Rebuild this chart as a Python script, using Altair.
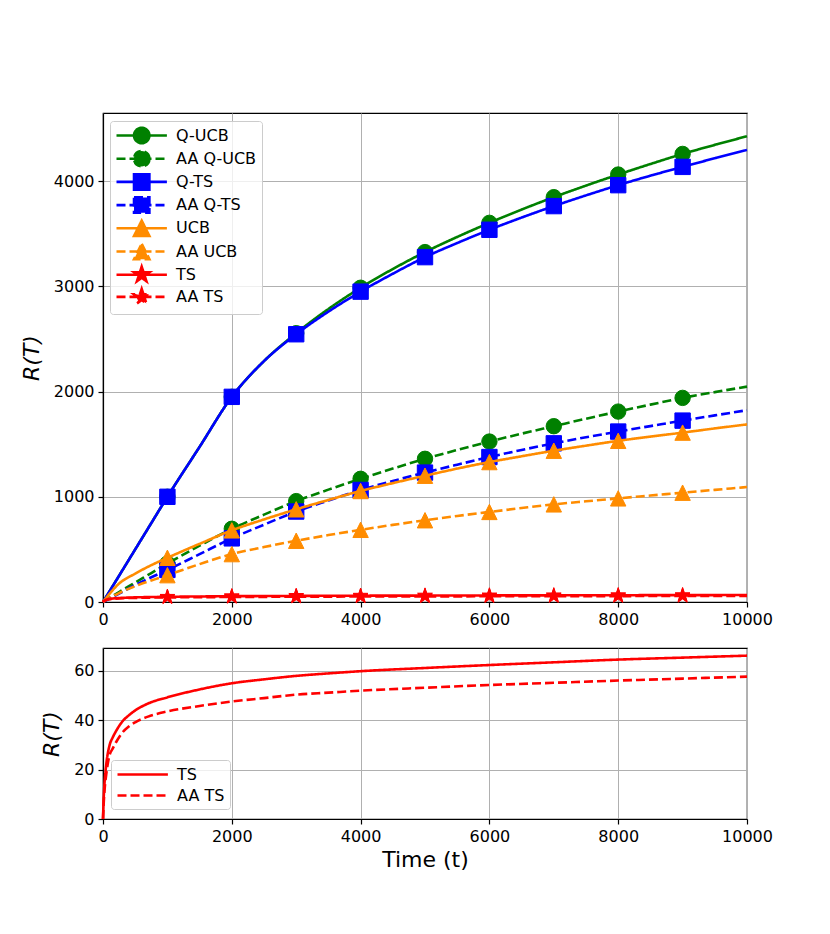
import math
import altair as alt
import pandas as pd

# ---------------- data ----------------
T = [0, 250, 500, 750, 1000, 1500, 2000, 2500, 3000, 3500, 4000, 4500, 5000,
     5500, 6000, 6500, 7000, 7500, 8000, 8500, 9000, 9500, 10000]

q_ucb = [0, 250, 500, 750, 1000, 1475, 1950, 2290, 2555, 2785, 2987, 3165, 3326,
         3470, 3604, 3730, 3848, 3958, 4063, 4163, 4259, 4345, 4427]
aa_q_ucb = [0, 95, 185, 275, 365, 535, 696, 830, 959, 1068, 1171, 1268, 1361,
            1445, 1525, 1600, 1671, 1742, 1810, 1876, 1940, 1995, 2047]
q_ts = [0, 250, 500, 750, 1000, 1475, 1950, 2290, 2545, 2760, 2950, 3120, 3278,
        3412, 3538, 3654, 3763, 3865, 3962, 4052, 4136, 4218, 4297]
aa_q_ts = [0, 80, 160, 235, 305, 455, 605, 735, 860, 965, 1065, 1150, 1230,
           1305, 1378, 1445, 1508, 1566, 1620, 1672, 1724, 1774, 1823]
ucb = [0, 175, 270, 350, 420, 553, 681, 785, 881, 970, 1055, 1130, 1200,
       1268, 1330, 1385, 1438, 1486, 1532, 1572, 1610, 1650, 1688]
aa_ucb = [0, 85, 150, 205, 255, 360, 455, 522, 582, 636, 686, 733, 777,
          818, 856, 893, 928, 957, 985, 1012, 1039, 1066, 1093]

T_ts = [0, 10, 25, 50, 100, 150, 200, 300, 400, 500, 700, 1000, 1500, 2000,
        2500, 3000, 3500, 4000, 5000, 6000, 7000, 8000, 9000, 10000]
ts = [0, 8, 15, 22, 29.7, 33, 35.5, 39.5, 42, 44, 46.8, 49.3, 52.5, 55,
      56.6, 58, 59, 59.9, 61.2, 62.4, 63.5, 64.6, 65.4, 66.2]
aa_ts = [0, 6, 12, 18, 25.7, 28.5, 31, 35, 37.5, 39.2, 41.5, 43.6, 45.8, 47.6,
         49, 50.4, 51.2, 52, 53.2, 54.3, 55.2, 56.1, 56.9, 57.7]

names = ["Q-UCB", "AA Q-UCB", "Q-TS", "AA Q-TS", "UCB", "AA UCB", "TS", "AA TS"]
colors = ["#008000", "#008000", "#0000ff", "#0000ff",
          "#ff8c00", "#ff8c00", "#ff0000", "#ff0000"]
marker_ticks = [1000, 2000, 3000, 4000, 5000, 6000, 7000, 8000, 9000]
x_ticks = [0, 2000, 4000, 6000, 8000, 10000]
y_ticks_top = [0, 1000, 2000, 3000, 4000]
y_ticks_bottom = [0, 20, 40, 60]

# ---------------- build tables ----------------
curves = {
    "Q-UCB": (T, q_ucb), "AA Q-UCB": (T, aa_q_ucb),
    "Q-TS": (T, q_ts), "AA Q-TS": (T, aa_q_ts),
    "UCB": (T, ucb), "AA UCB": (T, aa_ucb),
    "TS": (T_ts, ts), "AA TS": (T_ts, aa_ts),
}
rows = []
for n in names:
    tt, vv = curves[n]
    for t, v in zip(tt, vv):
        rows.append({"series": n, "t": t, "r": v})
df = pd.DataFrame(rows)
df_marks = df[df["t"].isin(marker_ticks)].reset_index(drop=True)

# ---------------- styling helpers ----------------
SOLID = [1, 0]
DASH = [9, 4]
dashes = [SOLID, DASH] * 4
LW = 2.6
MSIZE = 237


def star_path(cx, cy, R):
    pts = []
    for k in range(10):
        ang = -math.pi / 2 + k * math.pi / 5
        rad = R if k % 2 == 0 else R * 0.382
        pts.append((cx + rad * math.cos(ang), cy + rad * math.sin(ang)))
    return "M" + "L".join(f"{x:.3f},{y:.3f}" for x, y in pts) + "Z"


def circle_path(cx, cy, r):
    return (f"M{cx + r:.3f},{cy:.3f}A{r:.3f},{r:.3f},0,1,1,{cx - r:.3f},{cy:.3f}"
            f"A{r:.3f},{r:.3f},0,1,1,{cx + r:.3f},{cy:.3f}Z")


def square_path(cx, cy, h):
    return f"M{cx - h:.3f},{cy - h:.3f}H{cx + h:.3f}V{cy + h:.3f}H{cx - h:.3f}Z"


def tri_path(cx, cy, h):
    return f"M{cx:.3f},{cy - h:.3f}L{cx + h:.3f},{cy + h:.3f}L{cx - h:.3f},{cy + h:.3f}Z"


chart_shapes = {
    "circle": "circle",
    "square": "square",
    "triangle": "M0,-1L1,1L-1,1Z",
    "star": star_path(0, 0, 1.0),
}
marker_kind = ["circle", "circle", "square", "square",
               "triangle", "triangle", "star", "star"]

# legend symbols: line segment + marker, in units of sqrt(size)/2 = 8 px
LINE = "M-1,0H5.3"
cx, u = 2.15, 0.96
legend_marker = {
    "circle": circle_path(cx, 0, u),
    "square": square_path(cx, 0, u),
    "triangle": tri_path(cx, 0, u),
    "star": star_path(cx, 0, u * 1.05),
}
legend_paths = [LINE + legend_marker[k] for k in marker_kind]

FONT = "DejaVu Sans"
W = 644

x_top = alt.X("t:Q", scale=alt.Scale(domain=[0, 10000], nice=False),
              axis=alt.Axis(values=x_ticks, format="d", title=None))
y_top = alt.Y("r:Q", scale=alt.Scale(domain=[0, 4648], nice=False),
              axis=alt.Axis(values=y_ticks_top, format="d", title="R(T)",
                            titleFontStyle="italic"))

layers = []
for n, c, d, k in zip(names, colors, dashes, marker_kind):
    layers.append(
        alt.Chart(df).transform_filter(alt.datum.series == n)
        .mark_line(color=c, strokeDash=d, strokeWidth=LW, interpolate="monotone")
        .encode(x=x_top, y=y_top)
    )
    layers.append(
        alt.Chart(df_marks).transform_filter(alt.datum.series == n)
        .mark_point(shape=chart_shapes[k], filled=True, fill=c, stroke=c,
                    strokeWidth=1, size=MSIZE, opacity=1)
        .encode(x=x_top, y=y_top)
    )

top_legend = alt.Legend(
    title=None, orient="none", legendX=7, legendY=8,
    labelFontSize=16, labelFont=FONT, labelColor="black",
    symbolSize=256, symbolStrokeWidth=LW, symbolOpacity=1,
    labelOffset=42, rowPadding=-3.8, padding=5,
    strokeColor="#cccccc", fillColor="rgba(255,255,255,0.8)", cornerRadius=3,
)
legend_layer = (
    alt.Chart(df_marks).transform_filter("datum.t < 0")
    .mark_point(filled=True)
    .encode(
        x=x_top, y=y_top,
        color=alt.Color("series:N", scale=alt.Scale(domain=names, range=colors),
                        legend=top_legend),
        stroke=alt.Stroke("series:N", scale=alt.Scale(domain=names, range=colors),
                          legend=top_legend),
        shape=alt.Shape("series:N", scale=alt.Scale(domain=names, range=legend_paths),
                        legend=top_legend),
        strokeDash=alt.StrokeDash("series:N",
                                  scale=alt.Scale(domain=names, range=dashes),
                                  legend=top_legend),
    )
)
layers.append(legend_layer)

top = alt.layer(*layers).properties(width=W, height=489)

# ---------------- bottom panel ----------------
df_ts = df[df["series"].isin(["TS", "AA TS"])]
bottom_legend = alt.Legend(
    title=None, orient="none", legendX=8, legendY=112,
    labelFontSize=16, labelFont=FONT, labelColor="black",
    symbolType=LINE, symbolSize=256, symbolStrokeWidth=LW,
    labelOffset=42, rowPadding=3, padding=5,
    strokeColor="#cccccc", fillColor="rgba(255,255,255,0.8)", cornerRadius=3)
bottom = (
    alt.Chart(df_ts)
    .mark_line(strokeWidth=LW, interpolate="monotone")
    .encode(
        x=alt.X("t:Q", scale=alt.Scale(domain=[0, 10000], nice=False),
                axis=alt.Axis(values=x_ticks, format="d", title="Time (t)",
                              titlePadding=5)),
        y=alt.Y("r:Q", scale=alt.Scale(domain=[0, 69.3], nice=False),
                axis=alt.Axis(values=y_ticks_bottom, format="d", title="R(T)",
                              titleFontStyle="italic")),
        color=alt.Color("series:N",
                        scale=alt.Scale(domain=["TS", "AA TS"], range=["#ff0000", "#ff0000"]),
                        legend=bottom_legend),
        strokeDash=alt.StrokeDash("series:N",
                                  scale=alt.Scale(domain=["TS", "AA TS"], range=[SOLID, DASH]),
                                  legend=bottom_legend),
        detail="series:N",
    )
    .properties(width=W, height=171)
)

chart = (
    alt.vconcat(top, bottom, spacing=19)
    .resolve_scale(color="independent", strokeDash="independent",
                   stroke="independent", shape="independent",
                   x="independent", y="independent")
    .resolve_legend(color="independent", strokeDash="independent",
                    stroke="independent", shape="independent")
    .properties(padding={"left": 11, "top": 104, "right": 5, "bottom": 5})
    .configure(font=FONT, background="white")
    .configure_view(stroke="black", strokeWidth=1.2)
    .configure_axis(
        domainColor="black", domainWidth=1.2, tickColor="black", tickSize=5,
        tickWidth=1.2, labelColor="black", labelFont=FONT, labelFontSize=16,
        labelPadding=4, grid=True, gridColor="#b0b0b0", gridWidth=1,
        titleFont=FONT, titleFontSize=22, titleFontWeight="normal",
        titleColor="black", titlePadding=10, labelFlush=False,
    )
)

chart.save("out.html", embed_options={"renderer": "svg", "actions": False})
